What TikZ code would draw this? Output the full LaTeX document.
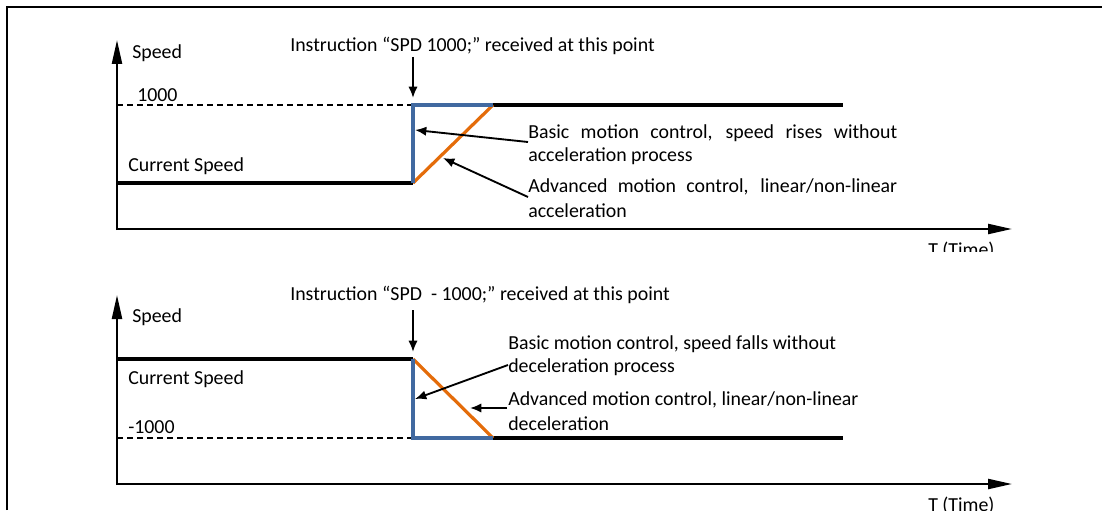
\documentclass[tikz,border=0pt]{standalone}
\usepackage{fontspec}
\setmainfont{Carlito}
\usetikzlibrary{arrows.meta}
\definecolor{cblue}{RGB}{65,105,160}
\definecolor{corange}{RGB}{228,108,10}
\begin{document}
\begin{tikzpicture}[x=0.75pt,y=-0.75pt,
  txt/.style={inner sep=0pt, anchor=base west, font=\fontsize{14.9}{17}\selectfont},
  axisline/.style={line width=1.7pt, -{Triangle[length=18pt,width=7.5pt]}},
  thickline/.style={line width=3pt},
  blueline/.style={cblue, line width=2.4pt, line join=miter},
  orangeline/.style={corange, line width=2.4pt},
  dashline/.style={dash pattern=on 4.5pt off 3pt, line width=0.8pt},
  pointer/.style={line width=1.4pt, -{Latex[length=8.5pt,width=7pt]}},
  frameline/.style={line width=1.5pt}]
\useasboundingbox (0,0) rectangle (1102,510);
% frame
\coordinate (fa) at (7,510);
\coordinate (fb) at (7,7);
\coordinate (fc) at (1102,7);
\draw[frameline] (fa) -- (fb) -- (fc);

% ================= top chart =================
\coordinate (o1) at (117,230);
\coordinate (y1) at (117,40);
\coordinate (x1) at (1012,229);
\coordinate (o1x) at (116,229);
\draw[axisline] (o1) -- (y1);
\draw[axisline] (o1x) -- (x1);

\coordinate (d1) at (117,105);
\coordinate (c1a) at (117,183);
\coordinate (c1b) at (413,183);
\coordinate (t1a) at (413,105);
\coordinate (t1b) at (493,105);
\coordinate (t1c) at (843,105);
\draw[dashline] (d1) -- (t1a);
\draw[thickline] (c1a) -- (c1b);
\draw[thickline] (t1b) -- (t1c);
\draw[orangeline] (c1b) -- (t1b);
\draw[blueline] (c1b) -- (t1a) -- (t1b);

\node[txt] (sp1) at (132,59) {Speed};
\node[txt] (v1) at (137,101) {1000};
\node[txt] (cs1) at (128,171) {Current Speed};
\node[txt] (ins1) at (290,51) {Instruction “SPD 1000;” received at this point};
\coordinate (i1s) at (413,57);
\coordinate (i1e) at (413,98);
\draw[pointer] (i1s) -- (i1e);

\node[txt] (b1) at (528,138) {\makebox[276.75pt][s]{Basic motion control, speed rises without}};
\node[txt] (b1b) at (528,161) {acceleration process};
\node[txt] (a1) at (528,192) {\makebox[276.75pt][s]{Advanced motion control, linear/non-linear}};
\node[txt] (a1b) at (528,217) {acceleration};
\coordinate (p1s) at (528,142);
\coordinate (p1e) at (415,130);
\coordinate (q1s) at (528,197);
\coordinate (q1e) at (443,158);
\draw[pointer] (p1s) -- (p1e);
\draw[pointer] (q1s) -- (q1e);

\begin{scope}
\clip (880,236) rectangle (1020,251);
\node[txt] (tt1) at (928,256) {T (Time)};
\end{scope}

% ================= bottom chart =================
\coordinate (o2) at (117,485);
\coordinate (y2) at (117,295);
\coordinate (x2) at (1012,484);
\coordinate (o2x) at (116,484);
\draw[axisline] (o2) -- (y2);
\draw[axisline] (o2x) -- (x2);

\coordinate (c2a) at (117,359);
\coordinate (c2b) at (413,359);
\coordinate (d2) at (117,438);
\coordinate (t2a) at (413,438);
\coordinate (t2b) at (493,438);
\coordinate (t2c) at (843,438);
\draw[dashline] (d2) -- (t2a);
\draw[thickline] (c2a) -- (c2b);
\draw[thickline] (t2b) -- (t2c);
\draw[orangeline] (c2b) -- (t2b);
\draw[blueline] (c2b) -- (t2a) -- (t2b);

\node[txt] (sp2) at (132,322) {Speed};
\node[txt] (cs2) at (128,384) {Current Speed};
\node[txt] (v2) at (128,433) {-1000};
\node[txt] (ins2) at (290,300) {Instruction “SPD \ - 1000;” received at this point};
\coordinate (i2s) at (413,310);
\coordinate (i2e) at (413,352);
\draw[pointer] (i2s) -- (i2e);

\node[txt] (b2) at (508,349) {Basic motion control, speed falls without};
\node[txt] (b2b) at (508,372) {deceleration process};
\node[txt] (a2) at (508,405) {Advanced motion control, linear/non-linear};
\node[txt] (a2b) at (508,430) {deceleration};
\coordinate (p2s) at (508,365);
\coordinate (p2e) at (415,399);
\coordinate (q2s) at (507,408);
\coordinate (q2e) at (470,408);
\draw[pointer] (p2s) -- (p2e);
\draw[pointer] (q2s) -- (q2e);

\begin{scope}
\clip (880,490) rectangle (1020,510);
\node[txt] (tt2) at (928,511) {T (Time)};
\end{scope}
\end{tikzpicture}
\end{document}
